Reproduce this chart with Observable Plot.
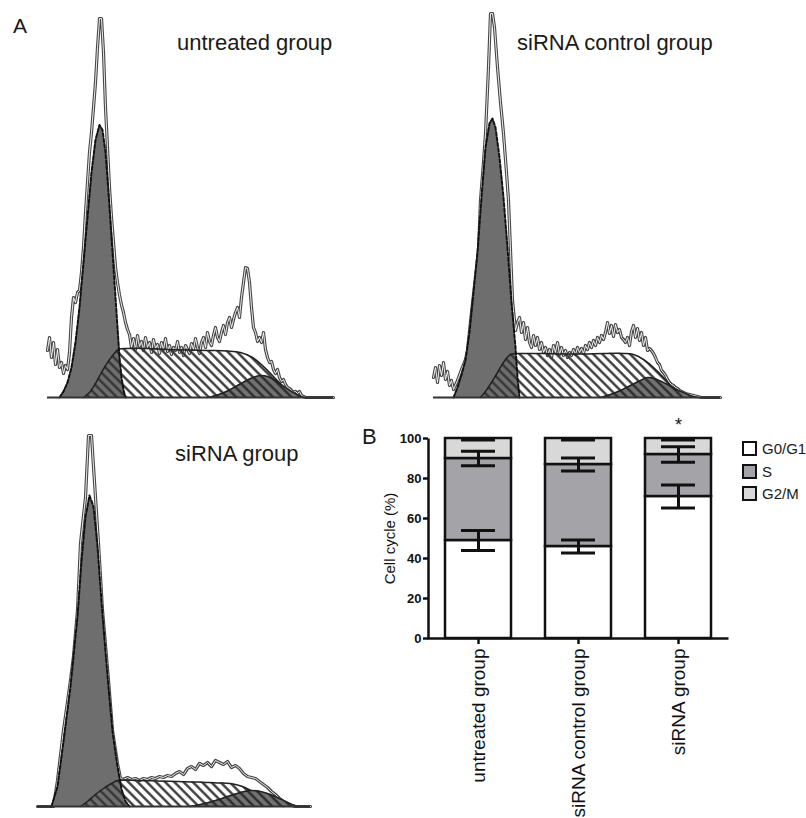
<!DOCTYPE html>
<html><head><meta charset="utf-8">
<script src="https://cdn.jsdelivr.net/npm/d3@7"></script>
<script src="https://cdn.jsdelivr.net/npm/@observablehq/plot@0.6"></script>
<style>
body{margin:0;background:#fff;font-family:"Liberation Sans",Arial,sans-serif;color:#1a1a1a}
#fig{position:relative;width:806px;height:818px;overflow:hidden;background:#fff}
#fig svg.plot{position:absolute}
.t{position:absolute;font-size:22px;line-height:1;white-space:nowrap;color:#1a1a1a}
.leg{position:absolute;font-size:15px;line-height:15px;white-space:nowrap;color:#1a1a1a}
.leg .box{position:absolute;left:0;top:0;width:11px;height:11px;border:2px solid #111}
.leg .lab{position:absolute;left:20px;top:0}
</style></head><body>
<svg width="0" height="0" style="position:absolute">
  <defs>
    <pattern id="hatchS" patternUnits="userSpaceOnUse" width="6.5" height="6.5" patternTransform="rotate(-45)">
      <line x1="3.25" y1="0" x2="3.25" y2="6.5" stroke="#333" stroke-width="2.3"/>
    </pattern>
    <pattern id="hatchG2" patternUnits="userSpaceOnUse" width="6.5" height="6.5" patternTransform="rotate(-45)">
      <rect width="6.5" height="6.5" fill="#727272"/>
      <line x1="3.25" y1="0" x2="3.25" y2="6.5" stroke="#2a2a2a" stroke-width="2.3"/>
    </pattern>
  </defs>
</svg>
<div id="fig"></div>
<script>
// ---------- Panel A: DNA histograms [channel, count] ----------
const untreatedTrace = [[0,94],[2,120],[4,80],[6,110],[8,66],[10,96],[12,60],[14,70],[16,48],[18,64],[20,56],[22,90],[24,160],[26,200],[28,190],[30,210],[32,214],[34,250],[36,300],[38,370],[40,430],[42,490],[44,530],[46,580],[48,630],[50,700],[52,758],[54,758],[56,690],[58,580],[60,500],[62,420],[64,360],[66,310],[68,260],[70,230],[72,205],[74,185],[76,170],[78,150],[80,136],[82,126],[84,100],[86,118],[88,96],[90,124],[92,102],[94,112],[96,94],[98,120],[100,100],[102,110],[104,90],[106,116],[108,98],[110,106],[112,88],[114,110],[116,96],[118,118],[120,92],[122,104],[124,86],[126,100],[128,94],[130,112],[132,90],[134,100],[136,84],[138,104],[140,96],[142,88],[144,108],[146,96],[148,118],[150,100],[152,88],[154,110],[156,120],[158,100],[160,130],[162,112],[164,104],[166,124],[168,140],[170,120],[172,112],[174,130],[176,144],[178,126],[180,150],[182,160],[184,140],[186,156],[188,170],[190,180],[192,160],[194,200],[196,230],[198,260],[200,258],[202,230],[204,180],[206,140],[208,130],[210,112],[212,120],[214,110],[216,130],[218,96],[220,80],[222,70],[224,72],[226,56],[228,48],[230,56],[232,40],[234,32],[236,36],[238,26],[240,20],[242,18],[244,14],[246,10],[248,12],[250,8],[252,12],[254,4],[256,2],[258,0],[286,0]];
const untreatedG1 = [[12,0],[16,12],[20,30],[24,60],[28,110],[32,180],[36,270],[40,360],[44,450],[48,515],[52,545],[55,535],[58,490],[61,410],[64,320],[67,230],[70,140],[72,80],[74,40],[76,15],[78,0]];
const untreatedS = [[36,0],[42,10],[48,28],[54,50],[60,70],[66,86],[71,96],[80,98],[100,98],[120,96],[140,95],[160,94],[180,93],[193,90],[205,80],[215,64],[225,44],[235,24],[243,10],[250,0]];
const untreatedG2 = [[160,0],[170,5],[180,13],[190,24],[200,35],[207,41],[213,44],[220,42],[228,34],[236,22],[244,12],[250,5],[256,0]];

const controlTrace = [[0,40],[2,60],[4,30],[6,64],[8,44],[10,70],[12,36],[14,52],[16,24],[18,34],[20,16],[24,34],[28,56],[32,76],[34,94],[38,170],[42,240],[45,294],[47,394],[50,470],[52,528],[55,660],[57,768],[59,768],[61,740],[64,660],[67,590],[70,528],[73,450],[75,394],[77,294],[79,194],[82,134],[84,150],[86,160],[88,130],[90,150],[92,116],[94,140],[96,110],[98,100],[100,124],[102,104],[104,120],[106,96],[108,110],[110,90],[112,100],[114,84],[116,96],[118,80],[120,104],[122,90],[124,110],[126,86],[128,100],[130,84],[132,94],[134,80],[136,90],[138,84],[140,96],[142,86],[144,100],[146,90],[148,98],[150,88],[152,104],[154,96],[156,110],[158,100],[160,114],[162,104],[164,120],[166,110],[168,124],[170,116],[172,130],[174,150],[176,128],[178,144],[180,122],[182,146],[184,130],[186,136],[188,120],[190,116],[192,110],[194,120],[196,104],[198,132],[200,144],[202,120],[204,138],[206,114],[208,130],[210,104],[212,120],[214,94],[216,98],[218,94],[220,88],[222,80],[224,70],[226,66],[228,54],[230,50],[232,44],[234,36],[236,30],[238,26],[240,24],[242,20],[244,18],[246,14],[248,12],[250,10],[252,8],[256,6],[260,4],[264,2],[268,0],[287,0]];
const controlG1 = [[20,0],[24,20],[28,45],[32,75],[36,130],[40,210],[44,290],[48,400],[52,500],[56,548],[59,558],[62,540],[66,480],[70,400],[74,300],[78,190],[82,100],[84,40],[86,0]];
const controlS = [[47,0],[52,12],[58,30],[64,50],[70,70],[77,86],[90,88],[110,88],[130,87],[150,87],[170,88],[190,88],[200,86],[210,76],[220,60],[230,40],[240,16],[247,0]];
const controlG2 = [[167,0],[177,6],[187,14],[197,24],[207,34],[214,40],[222,37],[232,28],[242,17],[252,8],[258,3],[264,0]];

const sirnaTrace = [[0,0],[16,0],[20,52],[26,152],[33,252],[36,300],[40,392],[43,526],[48,618],[51,742],[54,742],[58,618],[61,526],[65,392],[71,252],[75,152],[80,86],[83,56],[86,54],[90,58],[94,54],[98,56],[102,52],[106,56],[110,54],[114,58],[118,56],[122,60],[126,58],[130,62],[134,60],[138,66],[142,70],[146,64],[150,76],[154,80],[158,74],[162,86],[166,82],[170,88],[174,80],[178,92],[182,88],[186,84],[190,90],[194,78],[198,82],[202,76],[206,66],[210,60],[214,58],[218,56],[222,50],[226,44],[230,38],[234,30],[238,24],[242,16],[246,10],[250,6],[254,2],[258,0],[273,0]];
const sirnaG1 = [[14,0],[20,40],[26,130],[33,240],[40,380],[44,490],[48,580],[52,622],[56,600],[60,520],[64,410],[68,310],[71,240],[75,150],[80,80],[84,35],[88,10],[92,0]];
const sirnaS = [[43,0],[50,10],[58,24],[66,36],[74,46],[80,52],[100,52],[120,51],[140,50],[160,49],[180,47],[193,46],[205,40],[215,30],[225,20],[235,10],[241,4],[246,0]];
const sirnaG2 = [[153,0],[163,4],[173,9],[183,15],[193,22],[203,28],[213,32],[223,30],[233,24],[243,15],[251,7],[256,3],[260,0]];

// ---------- Panel B: stacked bars ----------
const groups = ["untreated group", "siRNA control group", "siRNA group"];
const phases = ["G0/G1", "S", "G2/M"];
const g0g1 = [49, 46, 71];
const sPhase = [41, 41, 21];
const g2m = [10, 13, 8];
const errG0G1 = [5, 3.3, 5.7];
const errS = [3.6, 3.2, 3.9];
const errG2M = [0.7, 0.7, 0.7];
const yTicks = [0, 20, 40, 60, 80, 100];
const sigMarks = ["", "", "*"];
const phaseColors = ["#ffffff", "#a3a3a8", "#d8d8d8"];

const fig = document.getElementById("fig");

function place(svg, left, top) {
  svg.classList.add("plot");
  svg.style.left = left + "px";
  svg.style.top = top + "px";
  svg.style.overflow = "visible";
  fig.appendChild(svg);
}

function histogram(o) {
  const X = d => d[0], Y = d => d[1];
  return Plot.plot({
    width: o.width, height: o.height,
    marginLeft: o.ml, marginRight: o.mr, marginTop: o.mt, marginBottom: o.mb,
    x: {domain: [0, o.xMax], axis: null},
    y: {domain: [0, o.yMax], axis: null},
    marks: [
      Plot.lineY(o.trace, {x: X, y: Y, stroke: "#474747", strokeWidth: 3.2}),
      Plot.lineY(o.trace, {x: X, y: Y, stroke: "#ffffff", strokeWidth: 0.9}),
      Plot.areaY(o.g1, {x: X, y: Y, fill: "#6e6e6e"}),
      Plot.areaY(o.s, {x: X, y: Y, fill: "url(#hatchS)", curve: "catmull-rom"}),
      Plot.lineY(o.s, {x: X, y: Y, stroke: "#222", strokeWidth: 1.5, curve: "catmull-rom"}),
      Plot.areaY(o.g2, {x: X, y: Y, fill: "url(#hatchG2)", curve: "catmull-rom"}),
      Plot.lineY(o.g2, {x: X, y: Y, stroke: "#222", strokeWidth: 1.5, curve: "catmull-rom"}),
      Plot.lineY(o.g1, {x: X, y: Y, stroke: "#111", strokeWidth: 2, strokeDasharray: "3.5 2"}),
      Plot.ruleY([0], {stroke: "#333", strokeWidth: 2})
    ]
  });
}

place(histogram({trace: untreatedTrace, g1: untreatedG1, s: untreatedS, g2: untreatedG2,
  width: 400, height: 410, ml: 47, mr: 67, mt: 18, mb: 13, xMax: 286, yMax: 758}), 0, 0);
place(histogram({trace: controlTrace, g1: controlG1, s: controlS, g2: controlG2,
  width: 406, height: 410, ml: 33, mr: 86, mt: 13, mb: 13, xMax: 287, yMax: 768}), 400, 0);
place(histogram({trace: sirnaTrace, g1: sirnaG1, s: sirnaS, g2: sirnaG2,
  width: 400, height: 408, ml: 37, mr: 90, mt: 25, mb: 12, xMax: 273, yMax: 742}), 0, 410);

// bar data table
const rows = [];
const errs = [];
const stars = [];
groups.forEach((g, i) => {
  const vals = [g0g1[i], sPhase[i], g2m[i]];
  const es = [errG0G1[i], errS[i], errG2M[i]];
  let top = 0;
  phases.forEach((p, j) => {
    rows.push({group: g, phase: p, value: vals[j]});
    top += vals[j];
    errs.push({group: g, lo: top - es[j], hi: Math.min(100, top + es[j])});
  });
  if (sigMarks[i]) stars.push({group: g, value: top, mark: sigMarks[i]});
});

const bar = Plot.plot({
  width: 426, height: 418,
  marginLeft: 48, marginRight: 78, marginTop: 38, marginBottom: 180,
  x: {domain: groups, paddingInner: 0.34, paddingOuter: 0.17, axis: null},
  y: {domain: [0, 100], axis: null},
  color: {domain: phases, range: phaseColors},
  style: {fontFamily: "Liberation Sans, Arial, sans-serif", color: "#111"},
  marks: [
    Plot.barY(rows, {x: "group", y: "value", fill: "phase", stroke: "#111", strokeWidth: 2.5}),
    Plot.ruleX(errs, {x: "group", y1: "lo", y2: "hi", stroke: "#111", strokeWidth: 3}),
    Plot.tickY(errs, {x: "group", y: "lo", stroke: "#111", strokeWidth: 3, insetLeft: 16, insetRight: 16}),
    Plot.tickY(errs, {x: "group", y: "hi", stroke: "#111", strokeWidth: 3, insetLeft: 16, insetRight: 16}),
    Plot.frame({stroke: "#111", strokeWidth: 2.5, strokeDasharray: "0 500 500"}),
    Plot.axisY({ticks: yTicks, tickSize: 5, tickPadding: 2, fontSize: 13, fontWeight: "bold", label: null, stroke: "#111", strokeWidth: 2.5}),
    Plot.axisX({tickSize: 6, tickPadding: 4, tickRotate: -90, fontSize: 19, label: null, stroke: "#111", strokeWidth: 2.5}),
    Plot.text(["Cell cycle (%)"], {frameAnchor: "left", textAnchor: "middle", text: d => d, rotate: -90, dx: -38, fontSize: 15}),
    Plot.text(stars, {x: "group", y: "value", text: "mark", dy: -13, fontSize: 18})
  ]
});
place(bar, 380, 400);

// labels and legend
function label(txt, left, top, size) {
  const d = document.createElement("div");
  d.className = "t";
  d.textContent = txt;
  d.style.left = left + "px";
  d.style.top = top + "px";
  if (size) d.style.fontSize = size + "px";
  fig.appendChild(d);
}
label("A", 13, 15, 21);
label("untreated group", 177, 32);
label("siRNA control group", 517, 32);
label("siRNA group", 175, 443);
label("B", 362, 426);

const legendTops = [440.5, 463.5, 485.5];
phases.forEach((p, j) => {
  const r = document.createElement("div");
  r.className = "leg";
  r.style.left = "742px";
  r.style.top = legendTops[j] + "px";
  r.innerHTML = `<div class="box" style="background:${phaseColors[j]}"></div><div class="lab">${p}</div>`;
  fig.appendChild(r);
});
</script>
</body></html>
